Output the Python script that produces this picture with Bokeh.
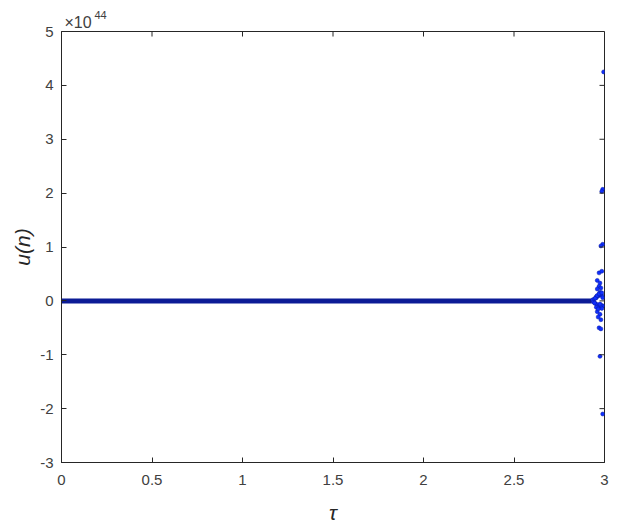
from bokeh.plotting import figure
from bokeh.models import Range1d, FixedTicker, Title
from bokeh.embed import file_html
from bokeh.resources import INLINE

# data (u in units of 1e44)
band_tau = [0.0, 2.90, 2.93]
band_u = [0.0, 0.0, 0.0]

pts_tau = [2.995, 2.990, 2.985, 2.990, 2.980, 2.970, 2.985, 2.960, 2.975, 2.970,
           2.980, 2.960, 2.975, 2.970, 2.960, 2.975, 2.965, 2.980, 2.970, 2.980,
           2.975, 2.990,
           2.935, 2.940, 2.945, 2.950, 2.955, 2.960, 2.965, 2.970, 2.975, 2.980,
           2.985, 2.990, 2.945, 2.955, 2.965, 2.975, 2.985, 2.950, 2.960, 2.970,
           2.980, 2.990, 2.955, 2.965, 2.975, 2.985]
pts_u = [4.25, 2.07, 2.03, 1.05, 1.02, 0.52, 0.55, 0.38, 0.33, 0.27,
         0.24, 0.22, 0.16, 0.12, -0.20, -0.25, -0.30, -0.35, -0.50, -0.52,
         -1.03, -2.10,
         0.02, -0.02, 0.04, -0.05, 0.06, -0.07, 0.09, -0.10, 0.11, -0.12,
         0.10, -0.09, -0.04, 0.08, -0.11, 0.13, -0.14, 0.05, 0.10, 0.13,
         -0.08, 0.06, -0.12, -0.15, -0.06, 0.15]

x_ticks = [0, 0.5, 1, 1.5, 2, 2.5, 3]
y_ticks = [-3, -2, -1, 0, 1, 2, 3, 4, 5]
exponent_base = "×10"
exponent_power = "44"

FONT = "Liberation Sans"
DARK = "#262626"
X0, X1, Y0, Y1 = 0, 3, -3, 5
W, H = 609, 526
BL, BR, BT, BB = 61, 5, 31, 52

p = figure(width=W, height=H, output_backend="svg", toolbar_location=None,
           x_range=Range1d(X0, X1), y_range=Range1d(Y0, Y1),
           min_border_left=BL, min_border_right=BR, min_border_top=BT, min_border_bottom=BB)

p.line(band_tau, band_u, line_width=5, color="#0c1c96")
p.scatter(pts_tau, pts_u, size=4, color="#1030ff", line_color="#0a1aa0", line_width=0.5)

# mirrored inward ticks on the right and top edges (MATLAB box style)
tick_px = 5
dx = tick_px * (X1 - X0) / 543
dy = tick_px * (Y1 - Y0) / 428
p.segment(x0=[X1] * len(y_ticks), y0=y_ticks, x1=[X1 - dx] * len(y_ticks), y1=y_ticks,
          line_color=DARK, line_width=1)
p.segment(x0=x_ticks, y0=[Y1] * len(x_ticks), x1=x_ticks, y1=[Y1 - dy] * len(x_ticks),
          line_color=DARK, line_width=1)

p.grid.visible = False
p.outline_line_color = DARK
p.outline_line_width = 1
p.background_fill_color = "white"
p.border_fill_color = "white"

def style(ax, ticks):
    ax.ticker = FixedTicker(ticks=ticks)
    ax.major_label_overrides = {t: str(t) for t in ticks}
    ax.major_tick_in = 5
    ax.major_tick_out = 0
    ax.minor_tick_line_color = None
    ax.axis_line_color = DARK
    ax.major_tick_line_color = DARK
    ax.major_label_text_font = FONT
    ax.major_label_text_font_size = "15px"
    ax.major_label_text_color = "#404040"
    ax.axis_label_text_font = FONT
    ax.axis_label_text_font_style = "italic"
    ax.axis_label_text_font_size = "21px"
    ax.axis_label_text_color = DARK
    ax.major_label_standoff = 8

xax = p.below[0]
yax = p.left[0]
style(xax, x_ticks)
style(yax, y_ticks)
xax.major_label_standoff = 12
xax.axis_label = "τ"
yax.axis_label = "u(n)"
xax.axis_label_standoff = 13
yax.axis_label_standoff = 3

p.add_layout(Title(text=exponent_base, align="left", offset=3, standoff=1,
                   text_font=FONT, text_font_size="16px", text_font_style="normal",
                   text_color="#404040"), "above")
p.add_layout(Title(text=exponent_power, align="left", offset=33, standoff=-15,
                   text_font=FONT, text_font_size="11px", text_font_style="normal",
                   text_color="#404040"), "above")

open("out.html", "w").write(file_html(p, INLINE))
